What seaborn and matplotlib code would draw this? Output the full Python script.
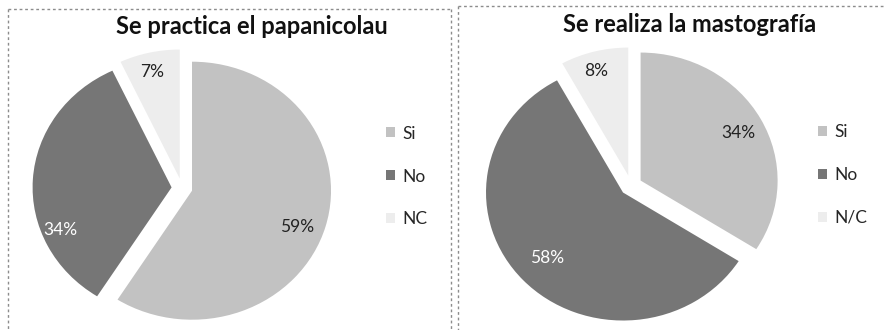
import matplotlib
matplotlib.use("Agg")
import matplotlib.pyplot as plt
import seaborn as sns
import numpy as np
from matplotlib.lines import Line2D

sns.set_theme(style="white")
plt.rcParams["font.family"] = ["Lato", "DejaVu Sans"]

# Survey answers (percent of respondents)
pap_labels = ["Si", "No", "NC"]
pap_values = [59, 34, 7]
pap_title = "Se practica el papanicolau"

mamo_labels = ["Si", "No", "N/C"]
mamo_values = [34, 58, 8]
mamo_title = "Se realiza la mastografía"

slice_colors = ["#c2c2c2", "#767676", "#ededed"]
text_colors = ["#222222", "#ffffff", "#222222"]

W, H = 886, 330
fig = plt.figure(figsize=(W / 100, H / 100), dpi=100)
fig.patch.set_facecolor("white")


def px_axes(cx, cy, rx, ry, lim=1.2):
    """Axes whose data unit spans rx by ry pixels, centred at pixel (cx, cy)."""
    ax = fig.add_axes([(cx - lim * rx) / W, (H - cy - lim * ry) / H,
                       2 * lim * rx / W, 2 * lim * ry / H])
    ax.set_xlim(-lim, lim)
    ax.set_ylim(-lim, lim)
    return ax


def draw_pie(ax, values, labels, explode, label_dist, label_shift):
    wedges, _, autotexts = ax.pie(
        values, colors=slice_colors, startangle=90, counterclock=False,
        explode=[explode] * len(values), autopct=lambda p: f"{p:.0f}%",
        pctdistance=0.8, textprops=dict(fontsize=12.5),
        wedgeprops=dict(linewidth=0))
    ax.set_aspect("auto")
    ax.set_xlim(-1.2, 1.2)
    ax.set_ylim(-1.2, 1.2)
    for w, t, c, d, s in zip(wedges, autotexts, text_colors, label_dist, label_shift):
        mid = np.deg2rad((w.theta1 + w.theta2) / 2 + s)
        t.set_position((d * np.cos(mid), d * np.sin(mid)))
        t.set_color(c)
    return wedges


ax1 = px_axes(182, 188, 139, 129)
w1 = draw_pie(ax1, pap_values, pap_labels, 0.075,
              [0.88, 0.93, 0.925], [-4, 24, 1])
ax2 = px_axes(631, 185.5, 137, 128)
w2 = draw_pie(ax2, mamo_values, mamo_labels, 0.08,
              [0.885, 0.834, 0.93], [-1, -0.5, 1.5])

fig.text(252 / W, 1 - 26 / H, pap_title, ha="center", va="center",
         fontsize=17, fontweight="bold", color="#111111")
fig.text(690 / W, 1 - 24 / H, mamo_title, ha="center", va="center",
         fontsize=17, fontweight="bold", color="#111111")

for wedges, labels, x, y in [(w1, pap_labels, 386, 176.5), (w2, mamo_labels, 818, 175)]:
    fig.legend(wedges, labels, loc="center left",
               bbox_to_anchor=(x / W, 1 - y / H), frameon=False,
               fontsize=12.5, handlelength=0.5, handleheight=0.5,
               handletextpad=0.45, labelspacing=1.55, borderpad=0,
               borderaxespad=0)

# dotted chart-area borders
border = dict(color="#8c8c8c", linewidth=1.0, linestyle=(0, (2, 2)))
def hline(x0, x1, y):
    fig.add_artist(Line2D([x0 / W, x1 / W], [1 - y / H, 1 - y / H], **border))
def vline(x, y0, y1):
    fig.add_artist(Line2D([x / W, x / W], [1 - y0 / H, 1 - y1 / H], **border))

hline(8, 451, 9)
vline(8, 9, 330)
vline(451, 9, 330)
hline(458, 886, 6)
vline(458, 6, 330)

fig.savefig("out.png", dpi=100, facecolor="white")
